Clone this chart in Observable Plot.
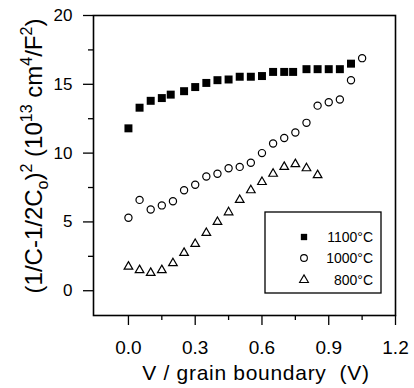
<!DOCTYPE html>
<html><head><meta charset="utf-8">
<script src="https://cdn.jsdelivr.net/npm/d3@7"></script>
<script src="https://cdn.jsdelivr.net/npm/@observablehq/plot@0.6"></script>
<style>body{margin:0;background:#fff}</style>
</head><body><div id="chart"></div>
<script>
// Series labels
const seriesNames = ["1100°C", "1000°C", "800°C"];

// 1100°C (filled squares)
const v1100 = [0, 0.05, 0.10, 0.15, 0.19, 0.25, 0.30, 0.35, 0.40, 0.45, 0.50, 0.55, 0.60, 0.65, 0.70, 0.74, 0.80, 0.85, 0.90, 0.95, 1.00];
const c1100 = [11.8, 13.3, 13.8, 14.0, 14.25, 14.5, 14.8, 15.1, 15.3, 15.35, 15.55, 15.55, 15.6, 15.9, 15.9, 15.9, 16.1, 16.1, 16.1, 16.1, 16.5];

// 1000°C (open circles)
const v1000 = [0, 0.05, 0.10, 0.15, 0.20, 0.25, 0.30, 0.35, 0.40, 0.45, 0.50, 0.55, 0.60, 0.65, 0.70, 0.75, 0.80, 0.85, 0.90, 0.95, 1.00, 1.05];
const c1000 = [5.3, 6.6, 5.9, 6.2, 6.5, 7.3, 7.7, 8.3, 8.5, 8.9, 9.0, 9.3, 10.0, 10.7, 11.1, 11.5, 12.2, 13.45, 13.7, 13.9, 15.3, 16.9];

// 800°C (open triangles)
const v800 = [0, 0.05, 0.10, 0.15, 0.20, 0.25, 0.30, 0.35, 0.40, 0.45, 0.50, 0.55, 0.60, 0.65, 0.70, 0.75, 0.80, 0.85];
const c800 = [1.75, 1.5, 1.3, 1.5, 2.0, 2.75, 3.4, 4.2, 5.0, 5.7, 6.6, 7.3, 7.9, 8.5, 9.0, 9.2, 8.9, 8.4];

// Ticks
const xMajor = [0, 0.3, 0.6, 0.9, 1.2];
const xMinor = [0.15, 0.45, 0.75, 1.05];
const yMajor = [0, 5, 10, 15, 20];
const yMinor = [2.5, 7.5, 12.5, 17.5];

const xTitle = "V / grain boundary  (V)";

const rows = (vs, cs) => vs.map((v, i) => ({v, c: cs[i]}));
const d1100 = rows(v1100, c1100);
const d1000 = rows(v1000, c1000);
const d800 = rows(v800, c800);

const font = "'Liberation Sans', Arial, Helvetica, sans-serif";

const plot = Plot.plot({
  width: 414, height: 388,
  marginLeft: 93, marginRight: 19, marginTop: 15, marginBottom: 73,
  style: {fontFamily: font, fontSize: "17px", color: "#000", background: "#fff", overflow: "visible"},
  x: {domain: [-0.157, 1.2]},
  y: {domain: [-1.8, 20]},
  marks: [
    Plot.axisX({ticks: xMajor, tickSize: 10, tickPadding: 15, tickFormat: d3.format(".1f"), fontSize: 19, label: null, strokeWidth: 1.3}),
    Plot.axisX({ticks: xMinor, tickSize: 5, tickFormat: () => "", label: null, strokeWidth: 1.3}),
    Plot.axisY({ticks: yMajor, tickSize: 10, tickPadding: 11, fontSize: 17, label: null, strokeWidth: 1.3}),
    Plot.axisY({ticks: yMinor, tickSize: 5, tickFormat: () => "", label: null, strokeWidth: 1.3}),
    Plot.frame({stroke: "#000", strokeWidth: 1.6}),
    Plot.dot(d800, {x: "v", y: "c", symbol: "triangle", fill: "none", stroke: "#000", strokeWidth: 1.2, r: 3.2}),
    Plot.dot(d1000, {x: "v", y: "c", symbol: "circle", fill: "#fff", stroke: "#000", strokeWidth: 1.2, r: 3.6}),
    Plot.dot(d1100, {x: "v", y: "c", symbol: "square", fill: "#000", stroke: "none", r: 4.5})
  ]
});

const svg = d3.select(plot);

// X axis title
svg.append("text")
  .attr("x", 256).attr("y", 380)
  .attr("text-anchor", "middle")
  .attr("font-size", 21)
  .attr("letter-spacing", 0.7)
  .attr("font-family", font)
  .attr("fill", "#000")
  .style("white-space", "pre")
  .text(xTitle);

// Y axis title with sub/superscripts
const yt = svg.append("text")
  .attr("transform", "translate(42,156) rotate(-90)")
  .attr("text-anchor", "middle")
  .attr("font-size", 24)
  .attr("font-family", font)
  .attr("fill", "#000")
  .style("white-space", "pre");
const parts = [
  ["(1/C-1/2C", 24, 0], ["o", 16, 6], [")", 24, -6], ["2", 16, -10],
  [" (10", 24, 10], ["13", 16, -10], [" cm", 24, 10], ["4", 16, -10],
  ["/F", 24, 10], ["2", 16, -10], [")", 24, 10]
];
parts.forEach(([t, fs, dy]) => yt.append("tspan").attr("font-size", fs).attr("dy", dy).text(t));

// Legend
const lg = svg.append("g");
lg.append("rect").attr("x", 265).attr("y", 212).attr("width", 116).attr("height", 81)
  .attr("fill", "#fff").attr("stroke", "#000").attr("stroke-width", 1.3);
const legSym = [
  {type: d3.symbolSquare, size: 40, fill: "#000", stroke: "none"},
  {type: d3.symbolCircle, size: 36, fill: "none", stroke: "#000"},
  {type: d3.symbolTriangle, size: 34, fill: "none", stroke: "#000"}
];
const legY = [237, 258, 280];
seriesNames.forEach((name, i) => {
  lg.append("path")
    .attr("transform", `translate(304,${legY[i]})`)
    .attr("d", d3.symbol(legSym[i].type, legSym[i].size)())
    .attr("fill", legSym[i].fill).attr("stroke", legSym[i].stroke).attr("stroke-width", 1.1);
  lg.append("text").attr("x", 373).attr("y", legY[i] + 5)
    .attr("text-anchor", "end").attr("font-size", 14).attr("font-family", font)
    .attr("fill", "#000").text(name);
});

document.getElementById("chart").appendChild(plot);
</script>
</body></html>
